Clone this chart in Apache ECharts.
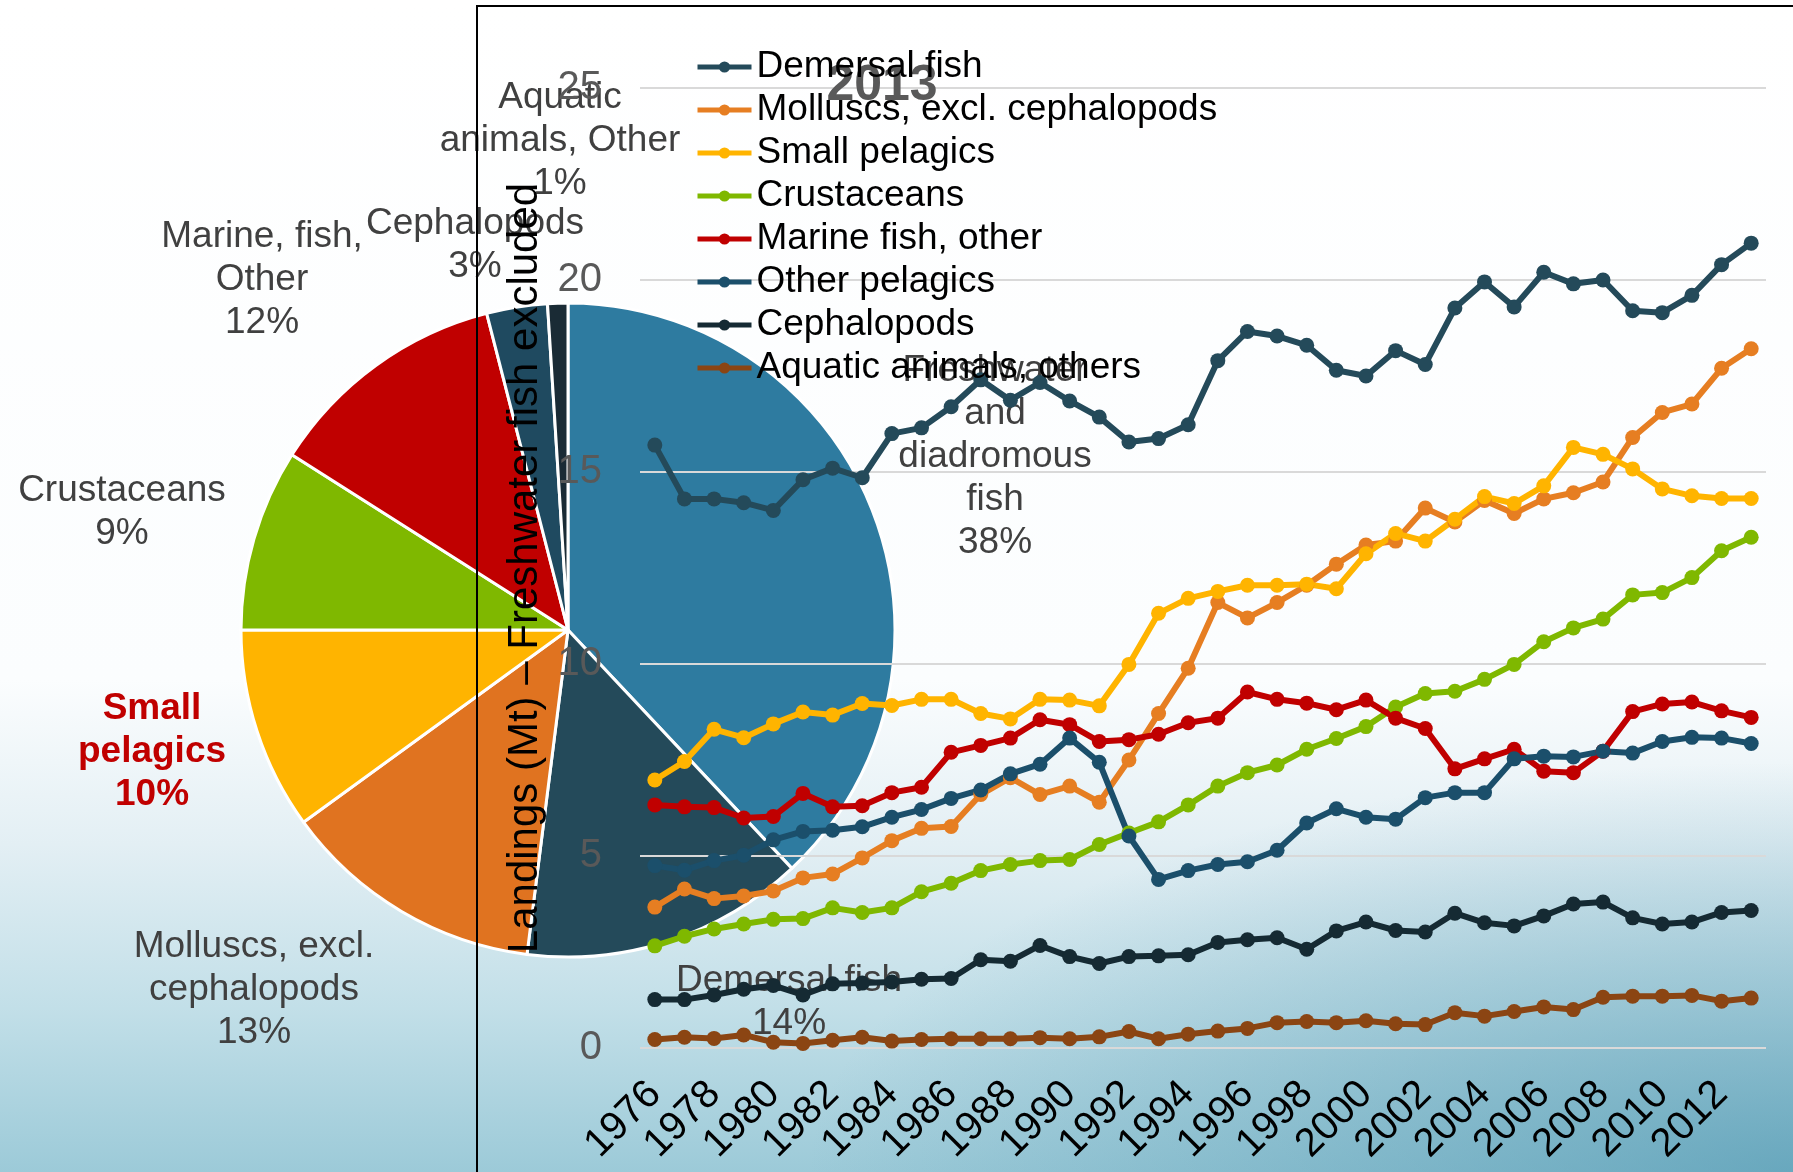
<!DOCTYPE html>
<html>
<head>
<meta charset="utf-8">
<title>Landings 1976-2013</title>
<script src="https://cdn.jsdelivr.net/npm/echarts@6/dist/echarts.min.js"></script>
<style>
  html, body { margin: 0; padding: 0; }
  #chart {
    width: 1793px;
    height: 1172px;
    background:
      radial-gradient(ellipse 55% 35% at 100% 100%, rgba(70, 145, 172, 0.6), rgba(70, 145, 172, 0) 100%),
      linear-gradient(to bottom, #ffffff 0%, #fbfdfe 58%, #e3eff4 72%, #c2dfe8 86%, #9ccad8 100%);
  }
</style>
</head>
<body>
<div id="chart"></div>
<script>
// 饼图：2013年各类渔获占比（%）
const pieNames = ['Freshwater\nand\ndiadromous\nfish', 'Demersal fish', 'Molluscs, excl.\ncephalopods', 'Small\npelagics',
  'Crustaceans', 'Marine, fish,\nOther', 'Cephalopods', 'Aquatic\nanimals, Other'];
const pieValues = [38, 14, 13, 10, 9, 12, 3, 1];

// 折线图：年份
const years = [];
for (let y = 1976; y <= 2013; y++) years.push(String(y));

// 折线图：各类产量（Mt）
const seriesNames = ['Demersal fish', 'Molluscs, excl. cephalopods', 'Small pelagics', 'Crustaceans',
  'Marine fish, other', 'Other pelagics', 'Cephalopods', 'Aquatic animals, others'];
const demersal = [15.7, 14.3, 14.3, 14.2, 14.0, 14.8, 15.1, 14.85, 16.0, 16.15,
  16.7, 17.4, 16.87, 17.33, 16.85, 16.43, 15.78, 15.87, 16.23, 17.9,
  18.66, 18.54, 18.3, 17.65, 17.5, 18.16, 17.8, 19.27, 19.95, 19.3,
  20.2, 19.9, 20.0, 19.2, 19.15, 19.6, 20.4, 20.96];
const molluscs = [3.67, 4.14, 3.89, 3.96, 4.09, 4.43, 4.53, 4.95, 5.4, 5.72,
  5.77, 6.6, 7.04, 6.6, 6.82, 6.4, 7.5, 8.71, 9.89, 11.6,
  11.2, 11.6, 12.05, 12.6, 13.1, 13.2, 14.06, 13.7, 14.26, 13.92,
  14.3, 14.46, 14.74, 15.9, 16.55, 16.77, 17.7, 18.21];
const smallPelagics = [6.98, 7.46, 8.3, 8.08, 8.44, 8.75, 8.67, 8.97, 8.92, 9.08,
  9.08, 8.71, 8.57, 9.08, 9.06, 8.91, 9.99, 11.32, 11.71, 11.89,
  12.05, 12.05, 12.08, 11.96, 12.87, 13.4, 13.2, 13.77, 14.36, 14.18,
  14.64, 15.64, 15.46, 15.08, 14.56, 14.38, 14.31, 14.31];
const crustaceans = [2.66, 2.91, 3.1, 3.23, 3.35, 3.37, 3.65, 3.53, 3.65, 4.07,
  4.29, 4.62, 4.78, 4.88, 4.91, 5.3, 5.6, 5.89, 6.33, 6.82,
  7.17, 7.37, 7.78, 8.06, 8.37, 8.88, 9.23, 9.29, 9.6, 9.99,
  10.58, 10.94, 11.17, 11.8, 11.86, 12.25, 12.95, 13.3];
const marineOther = [6.33, 6.28, 6.26, 5.99, 6.03, 6.63, 6.28, 6.31, 6.65, 6.79,
  7.7, 7.88, 8.07, 8.55, 8.42, 7.98, 8.03, 8.17, 8.47, 8.59,
  9.27, 9.08, 8.98, 8.81, 9.06, 8.59, 8.32, 7.27, 7.53, 7.78,
  7.21, 7.17, 7.73, 8.76, 8.96, 9.01, 8.78, 8.61];
const otherPelagics = [4.75, 4.63, 4.88, 5.02, 5.42, 5.64, 5.67, 5.76, 6.01, 6.21,
  6.5, 6.72, 7.14, 7.39, 8.07, 7.44, 5.52, 4.39, 4.62, 4.78,
  4.85, 5.15, 5.86, 6.23, 6.01, 5.96, 6.52, 6.65, 6.65, 7.53,
  7.6, 7.58, 7.73, 7.68, 7.98, 8.09, 8.07, 7.93];
const cephalopods = [1.26, 1.26, 1.38, 1.53, 1.63, 1.38, 1.67, 1.69, 1.72, 1.79,
  1.81, 2.3, 2.26, 2.67, 2.38, 2.2, 2.38, 2.4, 2.43, 2.75,
  2.82, 2.87, 2.57, 3.05, 3.28, 3.06, 3.02, 3.51, 3.26, 3.18,
  3.44, 3.75, 3.8, 3.39, 3.23, 3.28, 3.53, 3.58];
const aquaticOther = [0.22, 0.28, 0.25, 0.34, 0.15, 0.12, 0.2, 0.28, 0.18, 0.22,
  0.24, 0.24, 0.24, 0.27, 0.24, 0.29, 0.43, 0.24, 0.36, 0.44,
  0.51, 0.66, 0.69, 0.66, 0.71, 0.63, 0.61, 0.92, 0.83, 0.95,
  1.07, 1.0, 1.32, 1.35, 1.35, 1.37, 1.22, 1.3];
const seriesValues = [demersal, molluscs, smallPelagics, crustaceans, marineOther, otherPelagics, cephalopods, aquaticOther];

// 颜色与布局
const pieColors = ['#2e7ba0', '#244a5a', '#e07320', '#ffb400', '#7fb800', '#c00000', '#1f4a60', '#1a2b35'];
const lineColors = ['#244a5a', '#e67e22', '#ffb400', '#7fb800', '#c00000', '#1b4f6b', '#152a33', '#8b4513'];
const pieLabelPos = [[995, 457], [789, 1002], [254, 990], [152, 752], [122, 512], [262, 280], [475, 245], [560, 141]];
const FONT = '"Liberation Sans", Arial, sans-serif';

const chart = echarts.init(document.getElementById('chart'));

const pieData = pieNames.map((name, i) => {
  const item = { name: name, value: pieValues[i], itemStyle: { color: pieColors[i] } };
  if (i === 3) item.label = { color: '#c00000', fontWeight: 'bold' };
  return item;
});

const lineSeries = seriesNames.map((name, i) => ({
  name: name,
  type: 'line',
  z: 4,
  data: seriesValues[i],
  symbol: 'circle',
  symbolSize: 15,
  color: lineColors[i],
  lineStyle: { width: 6, color: lineColors[i] },
  itemStyle: { color: lineColors[i] }
}));

const option = {
  animation: false,
  textStyle: { fontFamily: FONT },
  title: {
    text: '2013',
    left: 877,
    top: 56,
    textAlign: 'center',
    z: 3,
    textStyle: { fontFamily: FONT, fontSize: 50, fontWeight: 'bold', color: '#595959' }
  },
  legend: {
    orient: 'vertical',
    left: 690,
    top: 42,
    z: 6,
    itemWidth: 54,
    itemHeight: 14,
    itemGap: 3,
    data: seriesNames,
    lineStyle: { width: 5 },
    textStyle: { fontFamily: FONT, fontSize: 37, lineHeight: 40, color: '#000' }
  },
  grid: { left: 640, right: 27, top: 88, bottom: 124, containLabel: false },
  xAxis: {
    type: 'category',
    data: years,
    z: 3,
    axisLine: { show: false },
    axisTick: { show: false },
    axisLabel: { interval: 1, rotate: 45, margin: 40, fontFamily: FONT, fontSize: 40, color: '#000' }
  },
  yAxis: {
    type: 'value',
    min: 0,
    max: 25,
    interval: 5,
    z: 3,
    name: 'Landings (Mt) \u2013 Freshwater fish excluded',
    nameLocation: 'middle',
    nameGap: 88,
    nameTextStyle: { fontFamily: FONT, fontSize: 42, color: '#000' },
    axisLabel: { margin: 38, fontFamily: FONT, fontSize: 40, color: '#595959' },
    splitLine: { lineStyle: { color: '#d9d9d9', width: 2 } }
  },
  graphic: [{
    type: 'rect',
    z: 5,
    shape: { x: 477, y: 6, width: 1500, height: 1300 },
    style: { fill: 'none', stroke: '#000', lineWidth: 2 }
  }],
  series: [{
    type: 'pie',
    z: 1,
    center: [568, 630],
    radius: 327,
    startAngle: 90,
    clockwise: true,
    data: pieData,
    itemStyle: { borderColor: '#ffffff', borderWidth: 3 },
    label: {
      show: true,
      position: 'outside',
      overflow: 'none',
      formatter: p => p.name + '\n' + p.value + '%',
      fontFamily: FONT,
      fontSize: 37,
      lineHeight: 43,
      color: '#404040',
      align: 'center'
    },
    labelLine: { show: false },
    labelLayout: params => ({
      x: pieLabelPos[params.dataIndex][0],
      y: pieLabelPos[params.dataIndex][1],
      align: 'center',
      verticalAlign: 'middle'
    })
  }].concat(lineSeries)
};

chart.setOption(option);
</script>
</body>
</html>
